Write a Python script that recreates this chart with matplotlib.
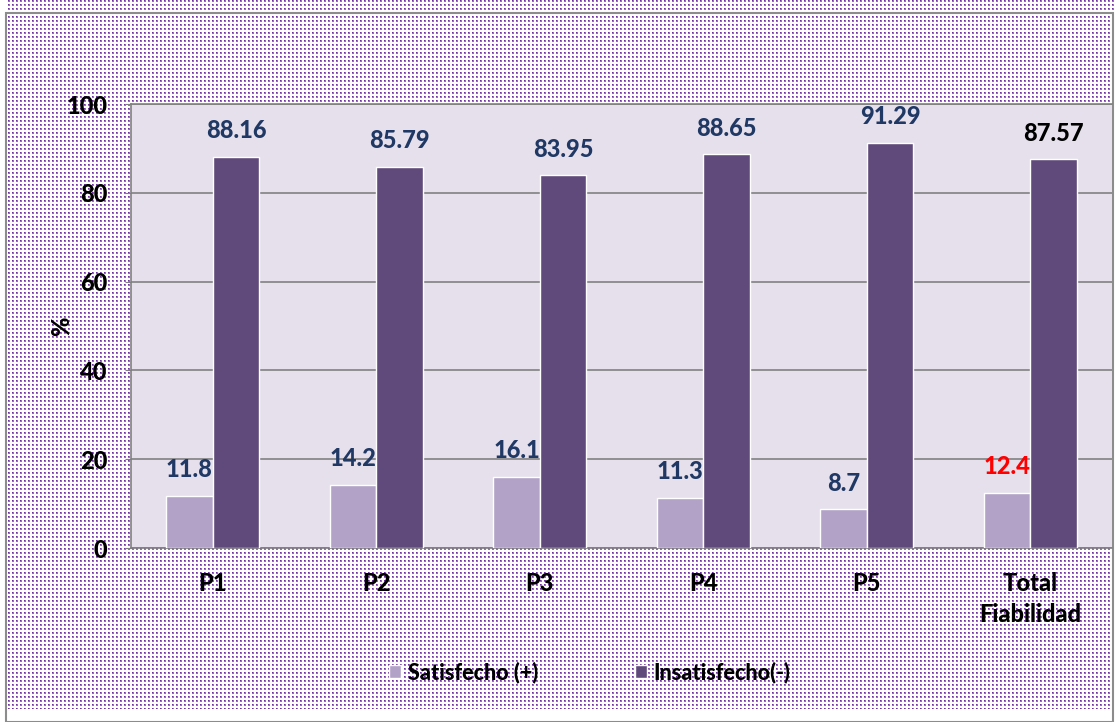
import matplotlib.pyplot as plt
import matplotlib.patches as mpatches
import numpy as np

# datos
categorias = ["P1", "P2", "P3", "P4", "P5", "Total\nFiabilidad"]
satisfecho = [11.8, 14.2, 16.1, 11.3, 8.7, 12.4]
insatisfecho = [88.16, 85.79, 83.95, 88.65, 91.29, 87.57]
etiquetasSat = ["11.8", "14.2", "16.1", "11.3", "8.7", "12.4"]
etiquetasIns = ["88.16", "85.79", "83.95", "88.65", "91.29", "87.57"]

colorSat = "#B3A2C7"
colorIns = "#604A7B"
azul = "#1F3864"

plt.rcParams['font.family'] = ['Lato', 'DejaVu Sans']

W, H = 1119, 722
fig = plt.figure(figsize=(W / 100, H / 100), dpi=100)

# fondo punteado (patron de puntos morados)
fondo = np.ones((H, W, 3))
yy, xx = np.mgrid[0:H, 0:W]
fondo[(xx % 4 < 2) & (yy % 4 < 2)] = [0.62, 0.40, 0.82]
fondo[(xx % 4 == 0) & (yy % 4 == 0)] = [0.44, 0.19, 0.63]
fondo[H - 13:, :] = 1.0
fondo[:, :6] = 1.0
fondo[:, 1114:] = 1.0
fig.figimage(fondo, xo=0, yo=0, zorder=-10)
borde = mpatches.Rectangle((6 / W, 0), 1107 / W, 709 / H, transform=fig.transFigure,
                           facecolor="none", edgecolor="#8C8C8C", linewidth=1.5, zorder=-9)
fig.patches.append(borde)

ax = fig.add_axes([131 / W, (H - 548) / H, 981 / W, 444 / H])
ax.set_facecolor("#E6E0EC")

x = np.arange(len(categorias))
ancho = 0.285
ax.bar(x - ancho / 2, satisfecho, ancho, color=colorSat, edgecolor="white", linewidth=1,
       label="Satisfecho (+)", zorder=3)
ax.bar(x + ancho / 2, insatisfecho, ancho, color=colorIns, edgecolor="white", linewidth=1,
       label="Insatisfecho(-)", zorder=3)

for i in range(len(categorias)):
    cSat = "red" if i == len(categorias) - 1 else azul
    cIns = "black" if i == len(categorias) - 1 else azul
    ax.text(x[i] - ancho / 2, satisfecho[i] + 3.3, etiquetasSat[i], ha="center", va="bottom",
            fontsize=17, fontweight="black", color=cSat, zorder=4)
    ax.text(x[i] + ancho / 2, insatisfecho[i] + 3.3, etiquetasIns[i], ha="center", va="bottom",
            fontsize=17, fontweight="black", color=cIns, zorder=4)

ax.set_xlim(-0.5, len(categorias) - 0.5)
ax.set_ylim(0, 100)
ax.set_yticks([0, 20, 40, 60, 80, 100])
ax.yaxis.grid(True, color="#808080", linewidth=1.2, zorder=0)
ax.set_axisbelow(True)
ax.set_xticks(x)
ax.set_xticklabels(categorias, fontsize=17, fontweight="black", linespacing=1.45)
for t in ax.get_yticklabels():
    t.set_fontsize(17)
    t.set_fontweight("black")
ax.tick_params(axis="x", length=0, pad=17)
ax.tick_params(axis="y", length=4, color="#808080", pad=13, direction="out")
ax.set_ylabel("%", fontsize=17, fontweight="black", labelpad=-5)

for lado in ["left", "bottom", "top"]:
    ax.spines[lado].set_color("#808080")
    ax.spines[lado].set_linewidth(1.2)
ax.spines["right"].set_visible(False)

fig.legend(loc="center", bbox_to_anchor=(0.527, (H - 672) / H), ncol=2, frameon=False,
           prop={"size": 15.5, "weight": "black"}, handlelength=0.55, handleheight=0.55,
           columnspacing=4.5, handletextpad=0.3)

fig.savefig("out.png", dpi=100)
